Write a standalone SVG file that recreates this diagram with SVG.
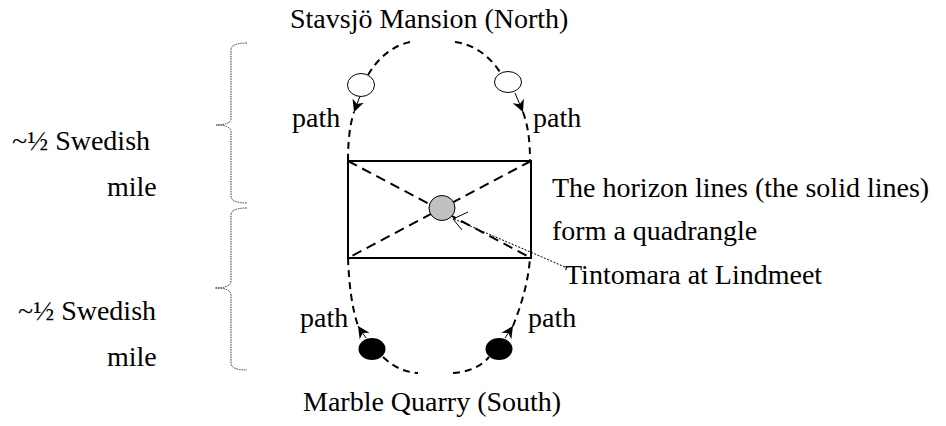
<svg xmlns="http://www.w3.org/2000/svg" width="946" height="426" viewBox="0 0 946 426">
<style>
  .lbl { font-family: 'Liberation Serif', 'DejaVu Serif', serif; font-size: 28px; fill: #000; }
  .arc { fill: none; stroke: #000; stroke-width: 2; stroke-dasharray: 7 5; }
  .diag { fill: none; stroke: #000; stroke-width: 2; stroke-dasharray: 10 6; }
  .brace { fill: none; stroke: #333; stroke-width: 1; stroke-dasharray: 1.5 1; }
  .head { fill: none; stroke: #000; stroke-width: 1; }
  .leader { fill: none; stroke: #000; stroke-width: 1; stroke-dasharray: 2 1.5; }
</style>
<defs>
  <marker id="arr" viewBox="0 0 12 12" refX="12" refY="6" markerWidth="12" markerHeight="12" markerUnits="userSpaceOnUse" orient="auto">
    <path d="M0,0 L12,6 L0,12 L3.5,6 z" fill="#000"/>
  </marker>
</defs>
<rect width="946" height="426" fill="#fff"/>

<g id="connectors">
  <path class="arc" d="M348,161 C348,140 350,124 354,112"/>
  <path class="head" d="M360,96 L354,112" marker-end="url(#arr)"/>
  <path class="arc" d="M368,75 C378,58 392,46 410,42"/>
  <path class="arc" d="M455,42 C472,44 488,54 500,72"/>
  <path class="head" d="M515,93 L523,112" marker-end="url(#arr)"/>
  <path class="arc" d="M523,112 C528,126 530,140 530,161"/>
  <path class="arc" d="M348,258 C349,285 352,308 358,326"/>
  <path class="head" d="M366,338 L358,326" marker-end="url(#arr)"/>
  <path class="arc" d="M383,357 C395,368 405,372 418,373"/>
  <path class="arc" d="M453,373 C466,372 480,368 489,357"/>
  <path class="head" d="M505,338 L513,326" marker-end="url(#arr)"/>
  <path class="arc" d="M513,326 C520,308 528,285 530,258"/>
  <path class="leader" d="M565,267 L454,219"/>
  <polyline class="head" points="468,212 453,219 462,230"/>
</g>

<g id="quadrangle">
  <line class="diag" x1="348" y1="161" x2="531" y2="258"/>
  <line class="diag" x1="531" y1="161" x2="348" y2="258"/>
  <rect x="348" y="161" width="183" height="97" fill="none" stroke="#000" stroke-width="2"/>
</g>

<g id="tintomara">
  <ellipse cx="442" cy="208" rx="13" ry="12.5" fill="#c0c0c0" stroke="#000" stroke-width="1"/>
</g>

<g id="north-left"><ellipse cx="361" cy="85" rx="13.5" ry="11.5" fill="#fff" stroke="#000" stroke-width="1"/></g>
<g id="north-right"><ellipse cx="508" cy="82" rx="13.5" ry="10.5" fill="#fff" stroke="#000" stroke-width="1"/></g>
<g id="south-left"><ellipse cx="372" cy="349" rx="13.5" ry="11" fill="#000"/></g>
<g id="south-right"><ellipse cx="499" cy="349" rx="13.5" ry="11" fill="#000"/></g>

<g id="braces">
  <path class="brace" d="M247,43 Q231,43 231,50 L231,118 Q231,125 216,125 Q231,125 231,132 L231,196 Q231,203 247,203"/>
  <path class="brace" d="M247,208 Q231,208 231,215 L231,281 Q231,288 215,288 Q231,288 231,295 L231,363 Q231,370 247,370"/>
</g>

<g id="labels" font-family="'Liberation Serif', 'DejaVu Serif', serif" font-size="28">
  <text class="lbl" x="290" y="28">Stavsjö Mansion (North)</text>
  <text class="lbl" x="303" y="411">Marble Quarry (South)</text>
  <text class="lbl" x="292" y="127">path</text>
  <text class="lbl" x="533" y="127">path</text>
  <text class="lbl" x="300" y="327">path</text>
  <text class="lbl" x="528" y="327">path</text>
  <text class="lbl" x="12" y="150">~½ Swedish</text>
  <text class="lbl" x="107" y="196">mile</text>
  <text class="lbl" x="18" y="320">~½ Swedish</text>
  <text class="lbl" x="107" y="366">mile</text>
  <text class="lbl" x="552" y="197">The horizon lines (the solid lines)</text>
  <text class="lbl" x="552" y="240">form a quadrangle</text>
  <text class="lbl" x="565" y="284">Tintomara at Lindmeet</text>
</g>
</svg>
